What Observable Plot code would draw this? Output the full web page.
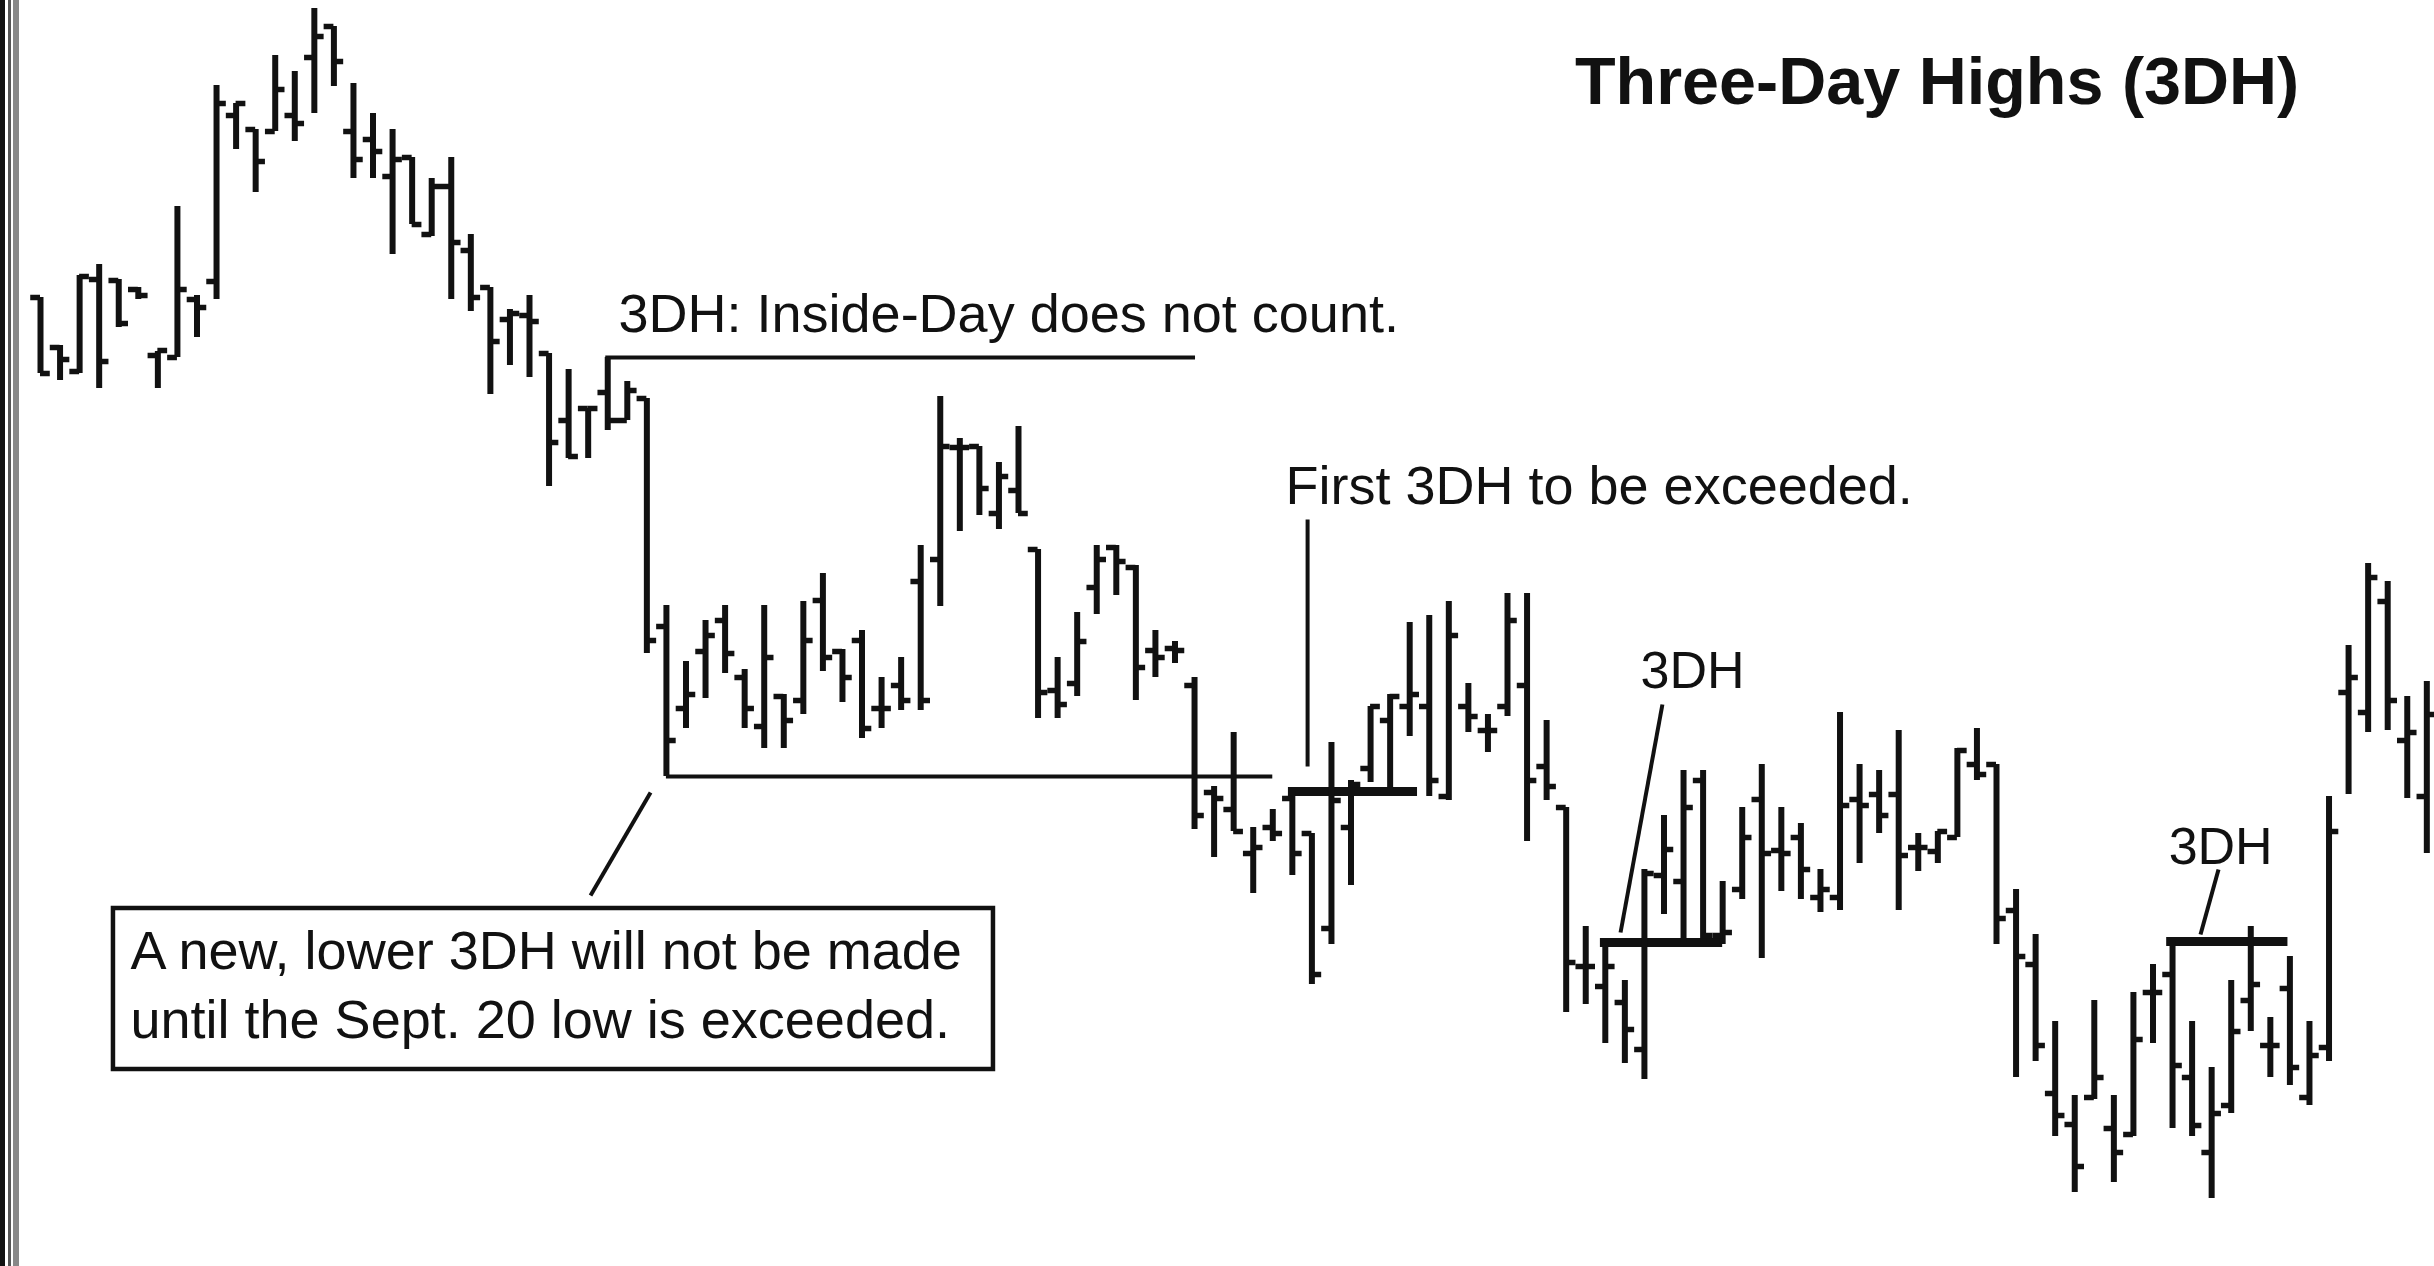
<!DOCTYPE html>
<html>
<head>
<meta charset="utf-8">
<script src="https://cdn.jsdelivr.net/npm/d3@7"></script>
<script src="https://cdn.jsdelivr.net/npm/@observablehq/plot@0.6"></script>
<style>
  html, body { margin: 0; padding: 0; background: #fff; }
  #wrap { position: relative; width: 2434px; height: 1266px; overflow: hidden; }
  #edge { position: absolute; left: 0; top: 0; width: 20px; height: 1266px;
    background: linear-gradient(to right, #111 0 5px, #fff 5px 8px, #555 8px 11px, #fff 11px 13px, #888 13px 19px, #fff 19px 20px); }
</style>
</head>
<body>
<div id="wrap"><div id="chart"></div><div id="edge"></div></div>
<script>
// Daily OHLC (price units), one value per trading day
const high = [110.3,105.5,112.5,113.6,112.1,111.3,104.9,119.4,110.5,131.5,
  129.7,127.1,134.5,132.9,139.2,137.4,131.7,128.7,127.1,124.3,
  122.2,124.3,116.6,111.3,109.1,110.5,104.7,103.1,99.2,104.3,
  101.9,100.2,79.5,73.9,78.0,79.5,73.1,79.5,70.6,79.9,
  82.7,75.1,77.0,72.3,74.3,85.5,100.4,96.2,95.4,93.8,
  97.4,85.1,74.3,78.8,85.5,85.5,83.5,77.0,75.9,72.3,
  61.4,66.8,57.3,59.1,60.9,56.7,65.8,62.0,69.4,70.6,
  77.8,78.5,79.9,71.7,68.6,80.7,80.7,68.0,59.3,47.4,
  45.8,42.0,53.1,58.5,63.0,63.0,51.9,59.3,63.6,59.3,
  57.7,53.1,68.8,63.6,63.0,67.0,56.7,56.9,65.2,67.2,
  63.6,51.1,46.6,37.9,30.5,40.0,30.5,40.8,43.6,45.9,
  37.9,33.3,42.0,47.4,38.3,44.4,37.9,60.4,75.5,83.7,
  81.9,70.4,71.9];
const low = [102.7,102.0,102.7,101.2,107.3,110.1,101.2,104.3,106.3,110.1,
  125.1,120.8,126.9,125.9,128.7,131.4,122.2,122.2,114.6,117.6,
  116.4,110.1,108.9,100.6,103.5,102.3,91.4,94.2,94.2,97.0,
  98.0,74.7,62.4,67.2,70.2,72.7,67.2,65.2,65.2,68.6,
  72.9,69.8,66.2,67.2,69.0,69.0,79.4,86.9,88.5,87.1,
  88.7,68.2,68.2,70.4,78.6,80.5,70.0,72.3,73.7,57.1,
  54.3,56.9,50.7,55.9,52.5,41.6,45.6,51.5,61.8,61.0,
  66.4,60.4,60.0,66.8,64.8,68.4,55.9,60.0,38.8,39.6,
  35.7,33.7,32.1,48.6,45.8,45.8,45.6,50.1,44.2,50.9,
  50.1,48.8,49.0,53.7,56.7,49.0,52.9,53.7,56.3,62.0,
  45.6,32.3,33.9,26.4,20.8,30.1,21.8,26.4,35.7,27.2,
  26.4,20.2,28.7,36.9,32.3,31.5,29.5,33.9,60.6,66.8,
  67.0,60.2,54.7];
const open = [110.3,105.3,102.9,112.1,112.0,111.1,104.5,104.3,110.1,111.9,
  128.5,127.1,126.9,128.5,134.3,137.4,126.9,126.1,122.4,124.3,
  116.6,121.4,115.0,111.3,108.1,108.5,104.7,98.0,99.2,100.8,
  98.0,100.2,77.4,69.2,74.9,78.0,72.3,67.4,70.4,70.0,
  80.0,74.9,76.0,69.2,71.5,81.9,84.1,95.3,95.4,88.7,
  91.0,85.1,71.0,71.7,81.3,85.3,83.3,75.0,75.2,71.5,
  60.8,59.1,54.7,57.3,60.2,56.7,47.2,57.3,63.2,68.0,
  69.4,69.4,60.4,69.4,67.0,69.4,71.5,63.4,59.3,43.4,
  41.4,39.8,35.1,52.5,51.9,62.0,46.5,51.1,60.1,55.0,
  56.3,50.3,50.3,60.1,60.6,60.6,55.3,54.9,56.3,63.6,
  63.6,49.0,43.6,30.7,27.6,30.3,27.2,26.6,40.8,42.6,
  32.3,24.8,29.5,40.0,35.5,41.2,30.3,35.3,70.8,68.8,
  79.9,66.0,60.4];
const close = [102.7,104.1,112.4,103.9,107.7,110.5,105.0,111.1,109.3,129.7,
  129.7,123.9,131.1,127.7,136.4,133.9,124.1,124.9,124.1,117.6,
  121.4,115.8,110.3,105.9,108.7,107.9,95.8,94.4,99.2,98.0,
  101.0,76.0,66.0,70.6,76.5,74.7,69.2,74.3,68.0,76.0,
  74.3,72.3,67.2,69.2,70.0,70.0,95.4,95.3,91.2,92.4,
  88.7,70.8,69.6,75.9,84.1,83.9,73.3,74.3,75.0,58.5,
  60.2,56.9,55.3,56.7,54.7,42.6,60.0,61.6,69.4,70.4,
  70.6,62.0,76.5,68.4,67.0,78.0,62.0,61.4,43.8,43.4,
  43.4,37.1,52.7,55.1,59.3,46.5,46.8,56.3,54.7,54.7,
  53.1,51.1,59.5,59.5,58.5,54.5,55.3,56.9,65.0,62.6,
  48.2,44.4,35.5,28.5,23.4,32.3,24.8,36.1,40.8,33.5,
  27.5,28.7,36.9,41.6,35.5,33.3,34.5,56.9,72.3,82.3,
  70.0,66.8,68.6];

// Horizontal reference levels (day index span, price)
const thinLevelY  = [104.3, 62.4];
const thinLevelX1 = [28.9, 32.0];
const thinLevelX2 = [59.05, 63.0];
const thickLevelY  = [60.9, 45.8, 45.9];
const thickLevelX1 = [63.8, 79.75, 108.7];
const thickLevelX2 = [70.4, 86.0, 114.9];

// Pointer lines (day index, price)
const ptrX1 = [31.19, 64.78, 82.92, 111.35];
const ptrY1 = [60.8, 88.1, 69.6, 53.1];
const ptrX2 = [28.12, 64.78, 80.78, 110.43];
const ptrY2 = [50.5, 63.4, 46.8, 46.6];

// Annotation texts
const noteText = ["3DH: Inside-Day does not count.", "First 3DH to be exceeded.",
  "A new, lower 3DH will not be made", "until the Sept. 20 low is exceeded."];
const noteX = [29.55, 63.65, 4.6, 4.6];
const noteY = [106.9, 89.7, 43.2, 36.3];
const tagText = ["3DH", "3DH"];
const tagX = [81.8, 108.8];
const tagY = [71.3, 53.7];
const titleText = ["Three-Day Highs (3DH)"];
const titleX = [78.45];
const titleY = [129.7];
// Callout box (day index span, price span)
const boxX1 = [3.73], boxX2 = [48.72], boxY1 = [49.2], boxY2 = [33.1];

const bars = d3.range(high.length).map(i => ({i, high: high[i], low: low[i], open: open[i], close: close[i]}));
const thin = thinLevelY.map((y, k) => ({y, x1: thinLevelX1[k], x2: thinLevelX2[k]}));
const thick = thickLevelY.map((y, k) => ({y, x1: thickLevelX1[k], x2: thickLevelX2[k]}));
const ptrs = ptrX1.map((x1, k) => ({x1, y1: ptrY1[k], x2: ptrX2[k], y2: ptrY2[k]}));
const notes = noteText.map((t, k) => ({t, x: noteX[k], y: noteY[k]}));
const tags = tagText.map((t, k) => ({t, x: tagX[k], y: tagY[k]}));
const titles = titleText.map((t, k) => ({t, x: titleX[k], y: titleY[k]}));
const box = boxX1.map((x1, k) => ({x1, x2: boxX2[k], y1: boxY1[k], y2: boxY2[k]}));

const ink = "#111";
const font = "'Liberation Sans', Arial, Helvetica, sans-serif";

const chart = Plot.plot({
  width: 2434,
  height: 1266,
  margin: 0,
  style: {background: "#fff", fontFamily: font},
  x: {domain: [-40 / 19.56, (2434 - 40) / 19.56], axis: null},
  y: {domain: [13.4, 140], axis: null},
  marks: [
    Plot.rect(box, {x1: "x1", x2: "x2", y1: "y1", y2: "y2", fill: "#fff", stroke: ink, strokeWidth: 4.5}),
    Plot.ruleY(thin, {y: "y", x1: "x1", x2: "x2", stroke: ink, strokeWidth: 4}),
    Plot.ruleY(thick, {y: "y", x1: "x1", x2: "x2", stroke: ink, strokeWidth: 9}),
    Plot.link(ptrs, {x1: "x1", y1: "y1", x2: "x2", y2: "y2", stroke: ink, strokeWidth: 4}),
    Plot.ruleX(bars, {x: "i", y1: "low", y2: "high", stroke: ink, strokeWidth: 6}),
    Plot.ruleY(bars, {x1: d => d.i - 0.5, x2: "i", y: "open", stroke: ink, strokeWidth: 5.5}),
    Plot.ruleY(bars, {x1: "i", x2: d => d.i + 0.5, y: "close", stroke: ink, strokeWidth: 5.5}),
    Plot.text(notes, {x: "x", y: "y", text: "t", textAnchor: "start", lineAnchor: "bottom", fontSize: 54, fill: ink}),
    Plot.text(tags, {x: "x", y: "y", text: "t", textAnchor: "start", lineAnchor: "bottom", fontSize: 52, fill: ink}),
    Plot.text(titles, {x: "x", y: "y", text: "t", textAnchor: "start", lineAnchor: "bottom", fontSize: 66.5, fontWeight: "bold", fill: ink})
  ]
});
document.getElementById("chart").appendChild(chart);
</script>
</body>
</html>
